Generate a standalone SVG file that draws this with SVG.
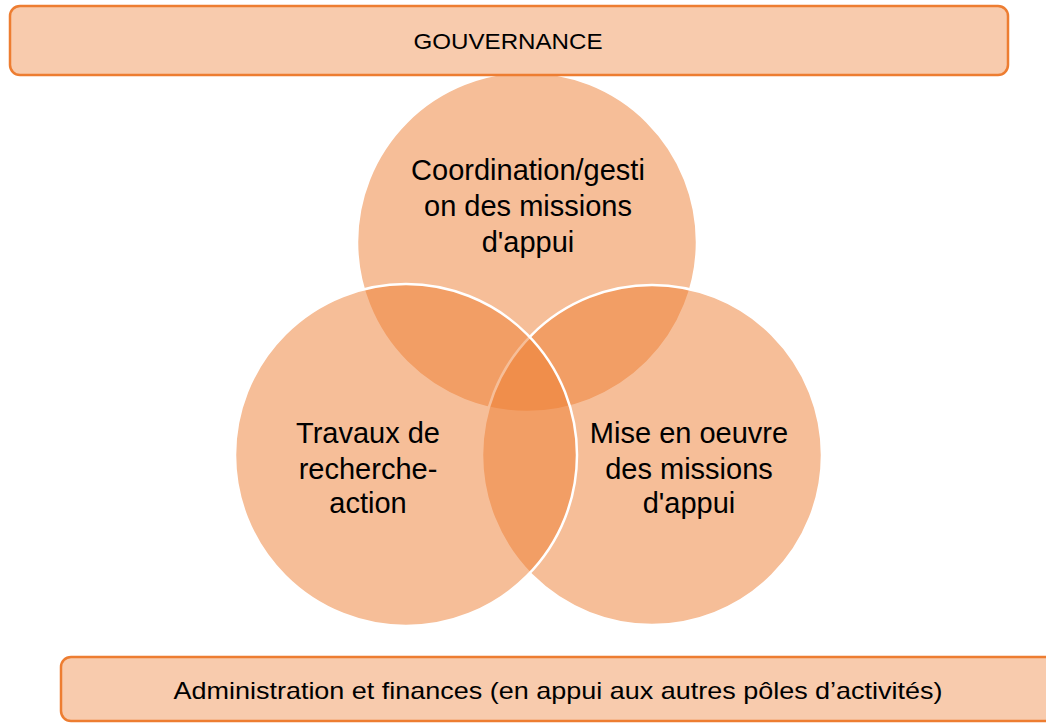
<svg xmlns="http://www.w3.org/2000/svg" width="1046" height="724" viewBox="0 0 1046 724">
<style>
.bar{fill:#F8CBAD;stroke:#ED7D31;stroke-width:2.5}
.circ{fill:#ED7D31;fill-opacity:0.5;stroke:#FFFFFF;stroke-width:2.5}
.t{font-family:"Liberation Sans",Arial,sans-serif;fill:#000000;text-anchor:middle}
.ct{font-size:29px}
</style>
<rect width="1046" height="724" fill="#FFFFFF"/>
<g id="circle-top">
<circle class="circ" cx="527" cy="242" r="170"/>
</g>
<g id="circle-right">
<circle class="circ" cx="652" cy="455" r="170"/>
</g>
<g id="circle-left">
<circle class="circ" cx="406" cy="455" r="171"/>
</g>
<g id="labels">
<text class="t ct" x="528" y="180">Coordination/gesti</text>
<text class="t ct" x="528" y="216">on des missions</text>
<text class="t ct" x="528" y="252">d'appui</text>
<text class="t ct" x="368" y="443">Travaux de</text>
<text class="t ct" x="368" y="479">recherche-</text>
<text class="t ct" x="368" y="513">action</text>
<text class="t ct" x="689" y="443">Mise en oeuvre</text>
<text class="t ct" x="689" y="479">des missions</text>
<text class="t ct" x="689" y="513">d'appui</text>
</g>
<g id="gouvernance">
<rect class="bar" x="10" y="6" width="998" height="69" rx="10" ry="10"/>
<text class="t" x="508" y="49" font-size="22" textLength="189" lengthAdjust="spacingAndGlyphs">GOUVERNANCE</text>
</g>
<g id="administration">
<rect class="bar" x="61" y="657" width="1000" height="64" rx="10" ry="10"/>
<text class="t" x="558" y="699" font-size="24" textLength="769" lengthAdjust="spacingAndGlyphs">Administration et finances (en appui aux autres pôles d’activités)</text>
</g>
<g id="connectors"></g>
</svg>
